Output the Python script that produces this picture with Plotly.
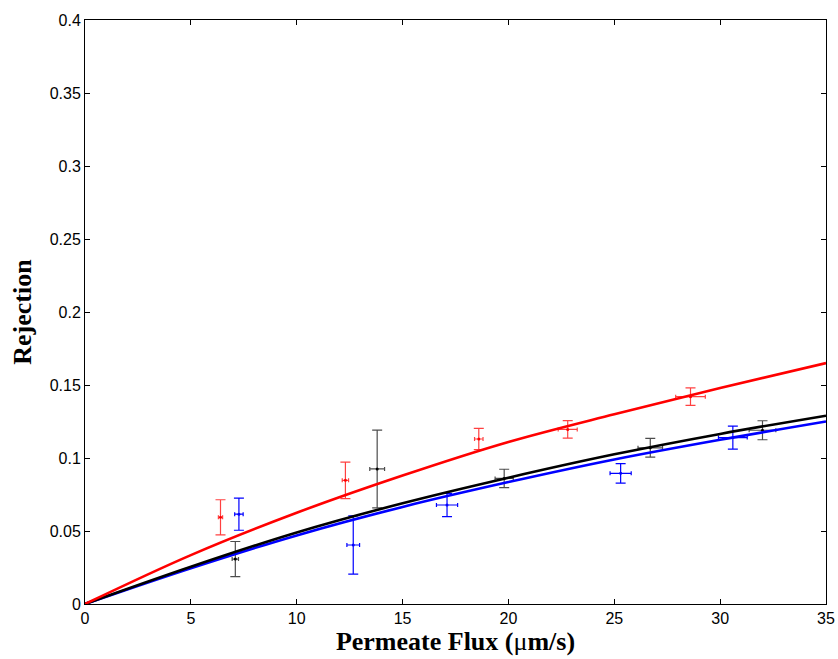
import plotly.graph_objects as go

# Fitted model curves
curve_x = [0, 5, 10, 15, 20, 25, 30, 35]
red_curve = [0, 0.0335, 0.0625, 0.088, 0.111, 0.130, 0.148, 0.165]
black_curve = [0, 0.0255, 0.049, 0.069, 0.0865, 0.1025, 0.1165, 0.129]
blue_curve = [0, 0.0245, 0.047, 0.0665, 0.0835, 0.099, 0.1125, 0.125]

# Experimental points
red_x = [6.4, 12.3, 18.6, 22.8, 28.6]
red_y = [0.0594, 0.0847, 0.113, 0.1196, 0.142]
red_ey = [0.012, 0.0125, 0.0073, 0.006, 0.006]
red_ex = [0.1, 0.15, 0.2, 0.45, 0.7]

blue_x = [7.27, 12.67, 17.1, 25.3, 30.6]
blue_y = [0.0615, 0.0404, 0.0678, 0.0895, 0.114]
blue_ey = [0.011, 0.02, 0.008, 0.0067, 0.0079]
blue_ex = [0.2, 0.3, 0.5, 0.5, 0.68]

black_x = [7.1, 13.8, 19.8, 26.7, 32.0]
black_y = [0.0308, 0.0925, 0.086, 0.107, 0.119]
black_ey = [0.012, 0.0266, 0.0063, 0.0064, 0.0065]
black_ex = [0.15, 0.35, 0.43, 0.58, 0.63]

x_ticks = [0, 5, 10, 15, 20, 25, 30, 35]
y_ticks = [0, 0.05, 0.1, 0.15, 0.2, 0.25, 0.3, 0.35, 0.4]
y_labels = ["0", "0.05", "0.1", "0.15", "0.2", "0.25", "0.3", "0.35", "0.4"]

fig = go.Figure()

def add_points(xs, ys, ex, ey, color, barcolor):
    fig.add_trace(go.Scatter(
        x=xs, y=ys, mode="markers",
        marker=dict(color=color, size=3),
        error_y=dict(type="data", array=ey, color=barcolor, thickness=1.2, width=5),
        error_x=dict(type="data", array=ex, color=barcolor, thickness=1.2, width=2),
        showlegend=False,
    ))

add_points(red_x, red_y, red_ex, red_ey, "red", "rgba(255,0,0,0.75)")
add_points(blue_x, blue_y, blue_ex, blue_ey, "blue", "blue")
add_points(black_x, black_y, black_ex, black_ey, "black", "rgba(0,0,0,0.7)")

for ys, c in [(blue_curve, "blue"), (black_curve, "black"), (red_curve, "red")]:
    fig.add_trace(go.Scatter(
        x=curve_x, y=ys, mode="lines",
        line=dict(color=c, width=2.6, shape="spline", smoothing=1.0),
        showlegend=False,
    ))

axis_common = dict(
    showgrid=False, zeroline=False, showline=True, linecolor="black", linewidth=1,
    mirror="ticks", ticks="inside", ticklen=5, tickcolor="black", automargin=False,
    tickfont=dict(family="Liberation Sans, Arial", size=16, color="black"),
)

fig.update_layout(
    width=838, height=659,
    margin=dict(l=85, r=12, t=20, b=55),
    paper_bgcolor="white", plot_bgcolor="white",
    xaxis=dict(range=[0, 35], tickvals=x_ticks,
               title=dict(text="<b>Permeate Flux (</b>μ<b>m/s)</b>",
                          font=dict(family="Liberation Serif, Times New Roman", size=26, color="black"),
                          standoff=4),
               **axis_common),
    yaxis=dict(range=[0, 0.4], tickvals=y_ticks, ticktext=y_labels,
               title=dict(text="<b>Rejection</b>",
                          font=dict(family="Liberation Serif, Times New Roman", size=26, color="black"),
                          standoff=10),
               **axis_common),
)

fig.write_html("out.html")
